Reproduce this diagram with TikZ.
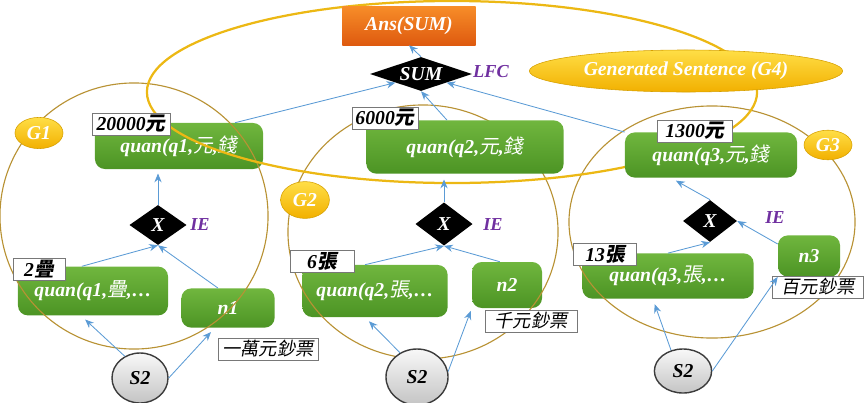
\documentclass[tikz,border=0pt]{standalone}
\usepackage{fontspec}
\setmainfont{Liberation Serif}
\newfontfamily\cjk[FakeSlant=0.18]{Noto Sans CJK TC}
\usetikzlibrary{arrows.meta,shapes.geometric}
\newcommand{\zh}[1]{{\cjk\mdseries #1}}
\newcommand{\zhb}[1]{{\cjk #1}}
\definecolor{anstop}{RGB}{247,140,40}
\definecolor{ansbot}{RGB}{222,90,15}
\definecolor{greentop}{RGB}{112,182,62}
\definecolor{greenbot}{RGB}{76,148,36}
\definecolor{goldtop}{RGB}{255,222,70}
\definecolor{goldbot}{RGB}{242,176,0}
\definecolor{goldline}{RGB}{214,160,0}
\definecolor{ringline}{RGB}{184,146,52}
\definecolor{bigline}{RGB}{236,184,20}
\definecolor{flowblue}{RGB}{91,155,213}
\definecolor{fnpurple}{RGB}{112,48,160}
\definecolor{tagline}{RGB}{120,120,120}
\definecolor{srcline}{RGB}{60,60,60}
\definecolor{srctop}{RGB}{248,248,248}
\definecolor{srcbot}{RGB}{196,196,196}
\tikzset{
  gbox/.style   ={rounded corners=7pt, top color=greentop, bottom color=greenbot, text=white, inner sep=2pt,
                  font=\fontsize{14}{16}\selectfont\bfseries\itshape},
  ansbox/.style ={top color=anstop, bottom color=ansbot, text=white, font=\fontsize{14}{16}\selectfont\bfseries\itshape},
  tag/.style    ={draw=tagline, fill=white, inner sep=1pt, minimum height=0.55cm,
                  font=\fontsize{14}{16}\selectfont\bfseries\itshape},
  nametag/.style={tag, font=\fontsize{13}{15}\selectfont\itshape},
  op/.style     ={diamond, fill=black, text=white, inner sep=0pt, font=\fontsize{14}{16}\selectfont\bfseries\itshape},
  fn/.style     ={text=fnpurple, font=\fontsize{13}{15}\selectfont\bfseries\itshape},
  gname/.style  ={ellipse, draw=goldline, top color=goldtop, bottom color=goldbot, text=white, inner sep=0pt,
                  font=\fontsize{14}{16}\selectfont\bfseries\itshape},
  grp/.style    ={ellipse, draw=ringline, line width=0.8pt, inner sep=0pt},
  src/.style    ={ellipse, draw=srcline, line width=1pt, top color=srctop, bottom color=srcbot, inner sep=0pt,
                  font=\fontsize{14}{16}\selectfont\bfseries\itshape},
  flow/.style   ={-{Stealth[length=2.2mm,width=1.8mm]}, draw=flowblue, line width=0.6pt}
}
\begin{document}
\begin{tikzpicture}[x=0.025cm, y=-0.025cm]
  \useasboundingbox (0,0) rectangle (865,402);
  \node[gbox, minimum width=3.75cm, minimum height=1.22cm] (q1) at (93,291) {quan(q1,\zh{疊},…};
  \node[gbox, minimum width=2.33cm, minimum height=0.98cm] (n1) at (228,308) {n1};
  \node[gbox, minimum width=3.63cm, minimum height=1.3cm] (q2) at (375,291) {quan(q2,\zh{張},…};
  \node[gbox, minimum width=1.75cm, minimum height=1.15cm] (n2) at (507,285) {n2};
  \node[gbox, minimum width=4.28cm, minimum height=1.13cm] (q3) at (668,276) {quan(q3,\zh{張},…};
  \node[gbox, minimum width=1.55cm, minimum height=1.03cm] (n3) at (809,256) {n3};
  \node[gbox, minimum width=4.2cm, minimum height=1.15cm] (top1) at (179,146) {quan(q1,\zh{元},\zh{錢}};
  \node[grp, minimum width=6.7cm, minimum height=6.65cm] (G1reg) at (134,216) {};
  \node[grp, minimum width=6.75cm, minimum height=6.35cm] (G2reg) at (423,232) {};
  \node[grp, minimum width=7.15cm, minimum height=5.8cm] (G3reg) at (712,222) {};
  \node[grp, draw=bigline, line width=1.6pt, minimum width=15.25cm, minimum height=4.55cm] (G4reg) at (452,92) {};
  \node[gbox, minimum width=4.93cm, minimum height=1.33cm] (top2) at (465,147) {quan(q2,\zh{元},\zh{錢}};
  \node[gbox, minimum width=4.3cm, minimum height=1.13cm] (top3) at (711,155) {quan(q3,\zh{元},\zh{錢}};
  \node[ansbox, minimum width=3.33cm, minimum height=0.95cm] (ans) at (409,26) {Ans(SUM)};
  \node[gname, minimum width=7.83cm, minimum height=1.05cm] (g4) at (686,71) {Generated Sentence (G4)};
  \node[op, aspect=3, minimum width=2.55cm, minimum height=0.85cm] (sum) at (421,74) {SUM};
  \node[fn] (lfc) at (491,72) {LFC};
  \node[op, aspect=1.4, minimum width=1.43cm, minimum height=1.0cm] (x1) at (158,225) {X};
  \node[op, aspect=1.4, minimum width=1.43cm, minimum height=1.08cm] (x2) at (444,224) {X};
  \node[op, aspect=1.4, minimum width=1.35cm, minimum height=1.05cm] (x3) at (710,221) {X};
  \node[fn] (ie1) at (200,225) {IE};
  \node[fn] (ie2) at (493,225) {IE};
  \node[fn] (ie3) at (775,218) {IE};
  \node[gname, minimum width=1.2cm, minimum height=0.78cm] (g1) at (39,133) {G1};
  \node[gname, minimum width=1.22cm, minimum height=0.92cm] (g2) at (305,200) {G2};
  \node[gname, minimum width=1.2cm, minimum height=0.74cm] (g3) at (828,145) {G3};
  \node[src, minimum width=1.4cm, minimum height=1.25cm] (s2a) at (140,378) {S2};
  \node[src, minimum width=1.55cm, minimum height=1.4cm] (s2b) at (417,377) {S2};
  \node[src, minimum width=1.43cm, minimum height=1.1cm] (s2c) at (683,371) {S2};
  \node[tag, minimum width=1.95cm] (v1) at (131,124) {20000\zhb{元}};
  \node[tag, minimum width=1.65cm] (v2) at (385,118) {6000\zhb{元}};
  \node[tag, minimum width=1.88cm] (v3) at (695,131) {1300\zhb{元}};
  \node[tag, minimum width=1.3cm] (u1) at (39,269) {2\zhb{疊}};
  \node[tag, minimum width=1.6cm] (u2) at (322,261) {6\zhb{張}};
  \node[tag, minimum width=1.58cm] (u3) at (605,254) {13\zhb{張}};
  \node[nametag, minimum width=2.5cm] (m1) at (268,349) {\zh{一萬元鈔票}};
  \node[nametag, minimum width=2.3cm] (m2) at (531,321) {\zh{千元鈔票}};
  \node[nametag, minimum width=2.28cm] (m3) at (818,287) {\zh{百元鈔票}};
  \draw[flow] (sum.north) -- (ans.south);
  \draw[flow] ([xshift=1.4cm]top1.north) -- (sum.south west);
  \draw[flow] ([xshift=-0.45cm]top2.north) -- (sum.south);
  \draw[flow] (top3.north west) -- (sum.south east);
  \draw[flow, shorten >=3pt] (x1.north) -- (x1.north |- top1.south);
  \draw[flow] ([xshift=-0.28cm]q1.north) -- (x1.south);
  \draw[flow] ([xshift=-0.25cm]n1.north) -- (x1.south);
  \draw[flow, shorten >=4pt] (s2a.125) -- ([xshift=-0.3cm]q1.south);
  \draw[flow, shorten >=4pt] (s2a.east) -- ([xshift=-0.33cm]n1.south);
  \draw[flow, shorten >=4pt] (x2.north) -- (x2.north |- top2.south);
  \draw[flow] ([xshift=-0.25cm]q2.north) -- (x2.south);
  \draw[flow] ([xshift=-0.18cm]n2.north) -- (x2.south);
  \draw[flow, shorten >=4pt] (s2b.125) -- ([xshift=-0.25cm]q2.south);
  \draw[flow, shorten >=2pt] (s2b.10) -- (n2.south west);
  \draw[flow, shorten >=4pt] (x3.north) -- ([xshift=-1.0cm]top3.south);
  \draw[flow] (q3.north) -- (x3.south);
  \draw[flow] ([yshift=0.3cm]n3.west) -- (x3.east);
  \draw[flow, shorten >=4pt] (s2c.120) -- ([xshift=-0.38cm]q3.south);
  \draw[flow] (s2c.east) -- (n3.south west);
\end{tikzpicture}
\end{document}
